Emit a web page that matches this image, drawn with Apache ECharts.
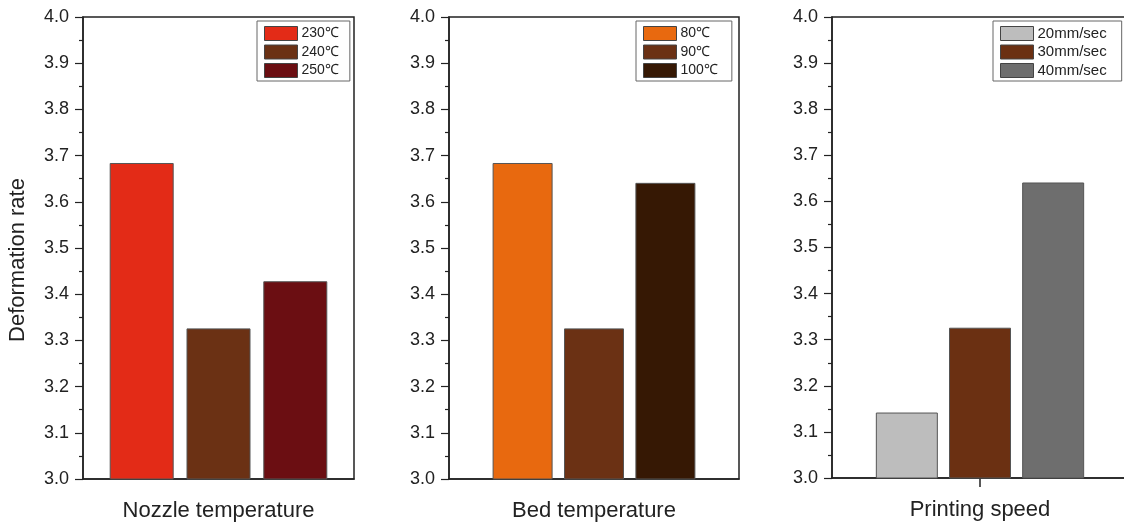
<!DOCTYPE html>
<html>
<head>
<meta charset="utf-8">
<title>Deformation rate</title>
<script src="https://cdn.jsdelivr.net/npm/echarts@6/dist/echarts.min.js"></script>
<style>
  html, body { margin: 0; padding: 0; background: #fff; }
  #chart { width: 1124px; height: 531px; }
</style>
</head>
<body>
<div id="chart"></div>
<script>
// Deformation rate under three process parameters
const panelTitles = ['Nozzle temperature', 'Bed temperature', 'Printing speed'];

const nozzleNames = ['230℃', '240℃', '250℃'];
const nozzleValues = [3.684, 3.326, 3.428];
const nozzleColors = ['#e32b17', '#6b3114', '#6b0e12'];

const bedNames = ['80℃', '90℃', '100℃'];
const bedValues = [3.684, 3.326, 3.641];
const bedColors = ['#e8690f', '#6b3114', '#361804'];

const speedNames = ['20mm/sec', '30mm/sec', '40mm/sec'];
const speedValues = [3.142, 3.326, 3.641];
const speedColors = ['#bdbdbd', '#6b3012', '#6e6e6e'];

// shared value axis range
const yMin = 3.0;
const yMax = 4.0;
const yStep = 0.1;

const FONT = 'Liberation Sans, Arial, sans-serif';
const INK = '#222';

const panels = [
  { names: nozzleNames, values: nozzleValues, colors: nozzleColors,
    grid: { left: 83, top: 17, width: 271, height: 462 },
    barWidth: 64, barGap: '20%', legendLeft: 257, legendFont: 14, legendPadR: 11,
    xTick: false, yName: 'Deformation rate' },
  { names: bedNames, values: bedValues, colors: bedColors,
    grid: { left: 449, top: 17, width: 290, height: 462 },
    barWidth: 60, barGap: '19%', legendLeft: 636, legendFont: 14, legendPadR: 14,
    xTick: false, yName: '' },
  { names: speedNames, values: speedValues, colors: speedColors,
    grid: { left: 832, top: 17, width: 296, height: 461 },
    barWidth: 62, barGap: '18%', legendLeft: 993, legendFont: 15, legendPadR: 15,
    xTick: true, yName: '' }
];

const grid = [], xAxis = [], yAxis = [], legend = [], series = [];

panels.forEach((p, i) => {
  grid.push(Object.assign({
    show: true, borderColor: INK, borderWidth: 1.5, backgroundColor: 'transparent',
    outerBoundsMode: 'none', containLabel: false
  }, p.grid));

  xAxis.push({
    type: 'category', gridIndex: i, data: [''],
    name: panelTitles[i], nameLocation: 'middle', nameGap: 21,
    nameTextStyle: { fontFamily: FONT, fontSize: 22, color: INK },
    axisLine: { lineStyle: { color: INK, width: 1.5 } },
    axisTick: { show: p.xTick, alignWithLabel: true, length: 9, lineStyle: { color: INK, width: 1.5 } },
    axisLabel: { show: false }
  });

  yAxis.push({
    type: 'value', gridIndex: i, min: yMin, max: yMax, interval: yStep,
    name: p.yName, nameLocation: 'middle', nameGap: 54,
    nameTextStyle: { fontFamily: FONT, fontSize: 22, color: INK, padding: [0, 24, 0, 0] },
    axisLine: { show: true, lineStyle: { color: INK, width: 1.5 } },
    axisTick: { show: true, length: 8, lineStyle: { color: INK, width: 1.2 } },
    minorTick: { show: true, splitNumber: 2, length: 4, lineStyle: { color: INK, width: 1.2 } },
    splitLine: { show: false },
    axisLabel: {
      fontFamily: FONT, fontSize: 18, color: INK, margin: 14,
      formatter: v => v.toFixed(1)
    }
  });

  legend.push({
    orient: 'vertical', left: p.legendLeft, top: 21,
    data: p.names, icon: 'rect',
    itemWidth: 33, itemHeight: 14, itemGap: 3.5,
    padding: [5, p.legendPadR, 3, 7],
    borderColor: '#666', borderWidth: 1,
    selectedMode: false,
    textStyle: { fontFamily: FONT, fontSize: p.legendFont, lineHeight: 14, color: INK, padding: [0, 0, 0, -1] },
    itemStyle: { borderColor: '#444', borderWidth: 1 }
  });

  p.names.forEach((name, k) => {
    series.push({
      type: 'bar', name: name, xAxisIndex: i, yAxisIndex: i,
      data: [p.values[k]],
      barWidth: p.barWidth, barGap: p.barGap,
      itemStyle: { color: p.colors[k], borderColor: '#555', borderWidth: 1 },
      emphasis: { disabled: true }
    });
  });
});

const chart = echarts.init(document.getElementById('chart'), null, { renderer: 'canvas' });
chart.setOption({
  animation: false,
  backgroundColor: '#fff',
  grid, xAxis, yAxis, legend, series
});
</script>
</body>
</html>
